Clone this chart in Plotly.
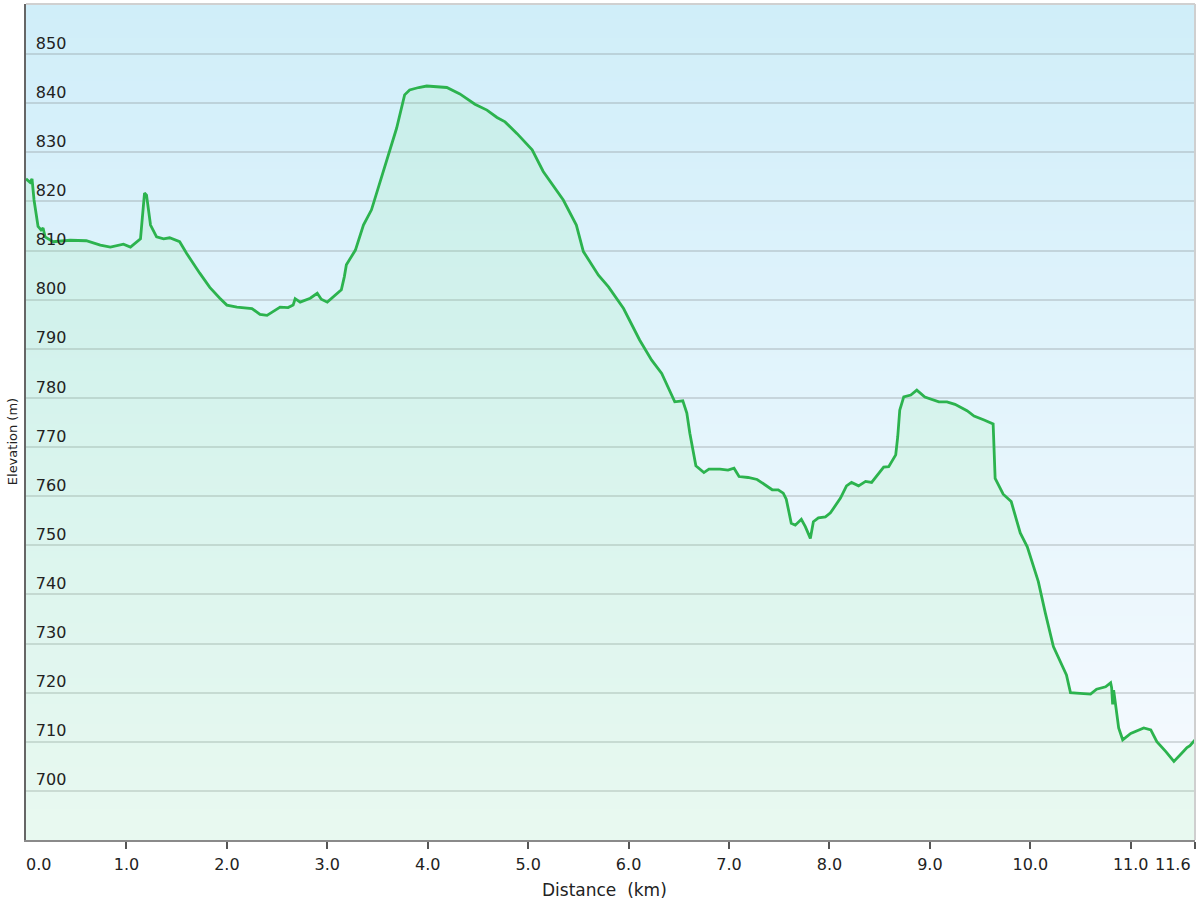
import base64
import struct
import zlib

import plotly.graph_objects as go

distance_km = [
    0.00, 0.04, 0.06, 0.08, 0.12, 0.15, 0.17, 0.19, 0.27, 0.44,
    0.60, 0.74, 0.84, 0.97, 1.04, 1.14, 1.18, 1.20, 1.24, 1.30,
    1.37, 1.43, 1.53, 1.60, 1.73, 1.83, 1.93, 2.00, 2.10, 2.25,
    2.33, 2.40, 2.53, 2.61, 2.66, 2.68, 2.73, 2.83, 2.90, 2.94,
    3.00, 3.08, 3.14, 3.17, 3.19, 3.28, 3.36, 3.44, 3.59, 3.69,
    3.77, 3.82, 3.91, 3.99, 4.19, 4.32, 4.47, 4.59, 4.69, 4.77,
    4.89, 5.04, 5.15, 5.35, 5.48, 5.55, 5.70, 5.80, 5.95, 6.11,
    6.23, 6.33, 6.46, 6.54, 6.58, 6.61, 6.67, 6.75, 6.80, 6.91,
    6.99, 7.05, 7.10, 7.19, 7.28, 7.34, 7.43, 7.49, 7.54, 7.57,
    7.62, 7.66, 7.72, 7.76, 7.81, 7.84, 7.89, 7.96, 8.01, 8.11,
    8.17, 8.22, 8.29, 8.36, 8.42, 8.54, 8.59, 8.66, 8.68, 8.70,
    8.74, 8.81, 8.87, 8.95, 9.09, 9.17, 9.25, 9.37, 9.44, 9.54,
    9.63, 9.65, 9.73, 9.81, 9.90, 9.97, 10.08, 10.15, 10.23, 10.36,
    10.40, 10.46, 10.60, 10.66, 10.75, 10.80, 10.81, 10.82, 10.83, 10.88,
    10.92, 11.00, 11.13, 11.20, 11.26, 11.35, 11.43, 11.51, 11.56, 11.59,
    11.64,
]
elevation_m = [
    824.6, 823.9, 824.6, 820.3, 814.9, 814.2, 814.6, 812.8, 811.8, 812.1,
    812.0, 811.1, 810.7, 811.3, 810.7, 812.4, 821.7, 821.3, 815.2, 812.8,
    812.4, 812.6, 811.8, 809.4, 805.4, 802.5, 800.3, 798.9, 798.5, 798.2,
    797.0, 796.8, 798.5, 798.4, 798.9, 800.2, 799.5, 800.3, 801.3, 800.1,
    799.5, 801.0, 802.0, 804.7, 807.1, 810.1, 815.2, 818.3, 828.4, 834.9,
    841.7, 842.7, 843.2, 843.5, 843.2, 841.9, 839.8, 838.6, 837.1, 836.2,
    833.8, 830.5, 826.1, 820.3, 815.2, 809.8, 805.0, 802.6, 798.2, 791.8,
    787.7, 785.0, 779.2, 779.4, 776.9, 772.8, 766.2, 764.8, 765.5, 765.5,
    765.3, 765.7, 764.0, 763.8, 763.4, 762.6, 761.3, 761.3, 760.6, 759.4,
    754.5, 754.1, 755.3, 753.8, 751.4, 754.8, 755.6, 755.8, 756.6, 759.6,
    762.1, 762.8, 762.1, 763.0, 762.8, 765.9, 766.0, 768.4, 772.1, 777.5,
    780.2, 780.6, 781.6, 780.2, 779.2, 779.2, 778.7, 777.4, 776.3, 775.5,
    774.7, 763.6, 760.4, 758.9, 752.5, 749.7, 742.6, 736.2, 729.4, 723.6,
    720.0, 719.9, 719.7, 720.7, 721.2, 722.0, 721.0, 717.6, 720.5, 712.8,
    710.4, 711.7, 712.8, 712.4, 710.0, 708.0, 706.0, 707.7, 708.8, 709.2,
    710.4,
]

x_ticks = [0, 1, 2, 3, 4, 5, 6, 7, 8, 9, 10, 11, 11.64]
x_tick_text = ["", "1.0", "2.0", "3.0", "4.0", "5.0", "6.0", "7.0", "8.0", "9.0", "10.0", "11.0", ""]
y_ticks = [700, 710, 720, 730, 740, 750, 760, 770, 780, 790, 800, 810, 820, 830, 840, 850]

X_MIN, X_MAX = 0, 11.64
Y_MIN, Y_MAX = 690, 860.2

FONT = "DejaVu Sans"
TXT = "#222222"

# vertical background gradient as a tiny PNG (top light blue -> bottom near white)
TOP_RGB = (208, 238, 249)
BOT_RGB = (248, 251, 255)


def gradient_png(top, bottom, h=256):
    rows = b""
    for i in range(h):
        t = i / (h - 1)
        px = bytes(int(round(top[k] + (bottom[k] - top[k]) * t)) for k in range(3))
        rows += b"\x00" + px
    def chunk(tag, data):
        c = struct.pack(">I", len(data)) + tag + data
        return c + struct.pack(">I", zlib.crc32(tag + data) & 0xFFFFFFFF)
    png = b"\x89PNG\r\n\x1a\n"
    png += chunk(b"IHDR", struct.pack(">IIBBBBB", 1, h, 8, 2, 0, 0, 0))
    png += chunk(b"IDAT", zlib.compress(rows))
    png += chunk(b"IEND", b"")
    return "data:image/png;base64," + base64.b64encode(png).decode()


fig = go.Figure()

# elevation profile with soft green area fill
fig.add_trace(go.Scatter(
    x=distance_km, y=elevation_m,
    mode="lines",
    line=dict(color="#2cb34e", width=2.8),
    fill="tozeroy",
    fillcolor="rgba(120,235,130,0.12)",
    showlegend=False,
))

fig.update_layout(
    width=1200, height=900,
    margin=dict(l=26, r=5, t=4, b=60),
    paper_bgcolor="white",
    plot_bgcolor="rgba(0,0,0,0)",
    font=dict(family=FONT, size=16, color=TXT),
    images=[dict(
        source=gradient_png(TOP_RGB, BOT_RGB),
        xref="paper", yref="paper", x=0, y=1, sizex=1, sizey=1,
        xanchor="left", yanchor="top", sizing="stretch", layer="below",
    )],
    xaxis=dict(
        range=[X_MIN, X_MAX], automargin=False,
        tickvals=x_ticks, ticktext=x_tick_text,
        ticks="outside", ticklen=7, tickwidth=2, tickcolor="#555555",
        showgrid=False, zeroline=False,
        showline=True, linecolor="#8a8a8a", linewidth=2,
        tickfont=dict(size=16, color=TXT),
        ticklabelstandoff=2,
    ),
    yaxis=dict(
        range=[Y_MIN, Y_MAX], automargin=False,
        tickvals=y_ticks,
        ticks="", ticklabelposition="inside",
        ticklabelshift=-11, ticklabelstandoff=10,
        showgrid=True, gridcolor="rgba(135,142,146,0.3)", gridwidth=2,
        zeroline=False,
        showline=True, linecolor="#666666", linewidth=2,
        tickfont=dict(size=16, color=TXT),
    ),
    shapes=[
        dict(type="line", xref="paper", yref="paper", x0=0, x1=1, y0=1, y1=1,
             line=dict(color="#d0d0d0", width=2)),
        dict(type="line", xref="paper", yref="paper", x0=1, x1=1, y0=0, y1=1,
             line=dict(color="#cfcfcf", width=2)),
    ],
    annotations=[
        dict(text="0.0", x=X_MIN, xref="x", y=0, yref="paper",
             xanchor="left", yanchor="top", xshift=-2, yshift=-13,
             showarrow=False, font=dict(size=16, color=TXT)),
        dict(text="11.6", x=X_MAX, xref="x", y=0, yref="paper",
             xanchor="right", yanchor="top", xshift=-2, yshift=-13,
             showarrow=False, font=dict(size=16, color=TXT)),
        dict(text="Distance  (km)", x=0.495, xref="paper", y=-0.0598, yref="paper",
             xanchor="center", yanchor="middle", showarrow=False,
             font=dict(size=17, color=TXT)),
        dict(text="Elevation (m)", x=-0.012, xref="paper", y=0.477, yref="paper",
             xanchor="center", yanchor="middle", textangle=-90, showarrow=False,
             font=dict(size=13, color=TXT)),
    ],
)

fig.write_html(
    "out.html",
    config={"displayModeBar": False},
    post_script="document.body.style.margin='0';document.body.style.overflow='hidden';",
)
